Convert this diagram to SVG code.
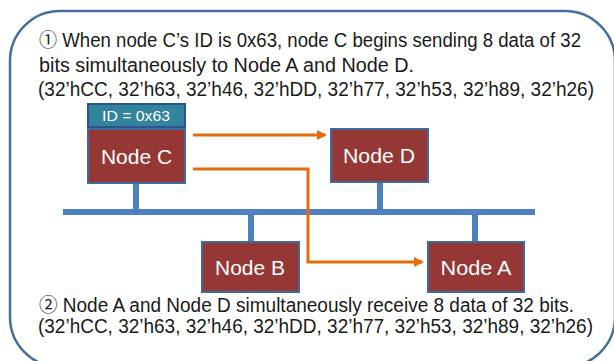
<svg xmlns="http://www.w3.org/2000/svg" width="614" height="361" viewBox="0 0 614 361">
<style>
.t{font-family:"Liberation Sans",Arial,sans-serif;font-size:19.5px;fill:#1a1a1a}
.c{font-family:"Noto Sans CJK SC","DejaVu Sans",sans-serif;font-size:19px}
.node{fill:#953735;stroke:#3E6A9E;stroke-width:2}
.lbl{font-family:"Liberation Sans",Arial,sans-serif;font-size:20px;fill:#ffffff;text-anchor:middle}
.bus{stroke:#4F81BD;stroke-width:6;fill:none}
.arr{stroke:#E46C0A;stroke-width:3;fill:none}
</style>
<defs>
<marker id="ah" markerWidth="10" markerHeight="10" refX="8" refY="5" orient="auto" markerUnits="userSpaceOnUse">
<path d="M0,0 L10,5 L0,10 Z" fill="#E46C0A"/>
</marker>
</defs>
<rect x="10" y="11" width="605" height="356" rx="50" ry="50" fill="#ffffff" stroke="#41719C" stroke-width="2.5"/>
<text class="t" x="39" y="47" textLength="542" lengthAdjust="spacingAndGlyphs"><tspan class="c">①</tspan> When node C’s ID is 0x63, node C begins sending 8 data of 32</text>
<text class="t" x="39" y="72" textLength="375" lengthAdjust="spacingAndGlyphs">bits simultaneously to Node A and Node D.</text>
<text class="t" x="38" y="96" textLength="556" lengthAdjust="spacingAndGlyphs">(32’hCC, 32’h63, 32’h46, 32’hDD, 32’h77, 32’h53, 32’h89, 32’h26)</text>
<text class="t" x="39" y="312" textLength="535" lengthAdjust="spacingAndGlyphs"><tspan class="c">②</tspan> Node A and Node D simultaneously receive 8 data of 32 bits.</text>
<text class="t" x="38" y="333" textLength="555" lengthAdjust="spacingAndGlyphs">(32’hCC, 32’h63, 32’h46, 32’hDD, 32’h77, 32’h53, 32’h89, 32’h26)</text>
<g id="bus">
<line class="bus" x1="63" y1="212" x2="535" y2="212"/>
<line class="bus" x1="136" y1="183" x2="136" y2="212"/>
<line class="bus" x1="380" y1="182" x2="380" y2="212"/>
<line class="bus" x1="251" y1="212" x2="251" y2="242"/>
<line class="bus" x1="475" y1="212" x2="475" y2="242"/>
</g>
<g id="id-label">
<rect x="88" y="104" width="97" height="23" fill="#31849B" stroke="#2F528F" stroke-width="2"/>
<text x="136" y="121" font-family="Liberation Sans, Arial, sans-serif" font-size="15" fill="#ffffff" text-anchor="middle" textLength="68" lengthAdjust="spacingAndGlyphs">ID = 0x63</text>
</g>
<g id="nodeC">
<rect class="node" x="88" y="129" width="97" height="54"/>
<text class="lbl" x="136.5" y="164" textLength="71" lengthAdjust="spacingAndGlyphs">Node C</text>
</g>
<g id="nodeD">
<rect class="node" x="331" y="129" width="97" height="53"/>
<text class="lbl" x="379" y="163" textLength="72" lengthAdjust="spacingAndGlyphs">Node D</text>
</g>
<g id="nodeB">
<rect class="node" x="202" y="242" width="97" height="50"/>
<text class="lbl" x="250" y="275" textLength="70" lengthAdjust="spacingAndGlyphs">Node B</text>
</g>
<g id="nodeA">
<rect class="node" x="428" y="242" width="96" height="50"/>
<text class="lbl" x="476" y="275" textLength="71" lengthAdjust="spacingAndGlyphs">Node A</text>
</g>
<g id="connectors">
<path class="arr" d="M193,135 L325,135" marker-end="url(#ah)"/>
<path class="arr" d="M193,169 L308,169 L308,262 L422,262" marker-end="url(#ah)"/>
</g>
</svg>
